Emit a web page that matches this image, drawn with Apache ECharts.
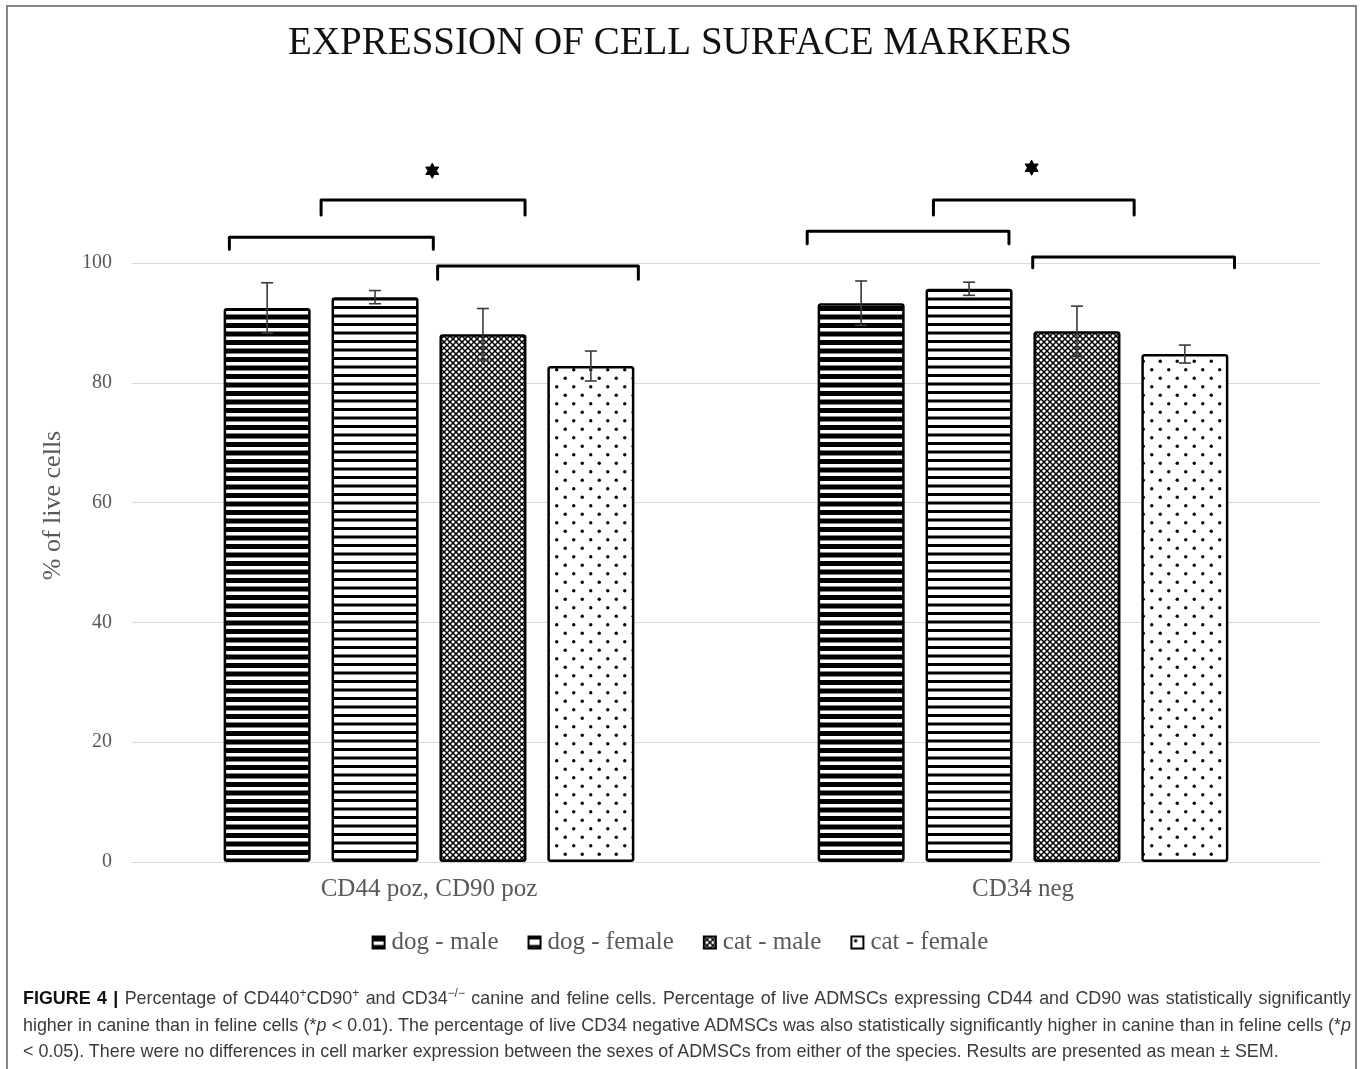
<!DOCTYPE html>
<html>
<head>
<meta charset="utf-8">
<script src="https://cdn.jsdelivr.net/npm/echarts@6/dist/echarts.min.js"></script>
<style>
html,body{margin:0;padding:0;width:1360px;height:1069px;overflow:hidden;background:#fff;}
#frame{position:absolute;left:6px;top:5px;width:1351px;height:1120px;border:2px solid #858585;box-sizing:border-box;pointer-events:none;}
#chart{position:absolute;left:0;top:0;width:1360px;height:1069px;}
#caption{position:absolute;left:23px;top:985px;width:1328px;font-family:'Liberation Sans',Arial,sans-serif;font-size:17.9px;line-height:26.5px;color:#3a3a3a;}
#caption div{white-space:nowrap;}
#caption .j{text-align:justify;text-align-last:justify;white-space:normal;}
#caption b{color:#111;}
#caption sup{font-size:12px;line-height:0;vertical-align:super;}
</style>
</head>
<body>
<div id="chart"></div>
<div id="caption">
<div class="j"><b>FIGURE 4 |</b> Percentage of CD440<sup>+</sup>CD90<sup>+</sup> and CD34<sup>−/−</sup> canine and feline cells. Percentage of live ADMSCs expressing CD44 and CD90 was statistically significantly</div>
<div class="j">higher in canine than in feline cells (*<i>p</i> &lt; 0.01). The percentage of live CD34 negative ADMSCs was also statistically significantly higher in canine than in feline cells (*<i>p</i></div>
<div>&lt; 0.05). There were no differences in cell marker expression between the sexes of ADMSCs from either of the species. Results are presented as mean ± SEM.</div>
</div>
<div id="frame"></div>
<script>
// ---- data ----
const categories = ['CD44 poz, CD90 poz', 'CD34 neg'];
const seriesNames = ['dog - male', 'dog - female', 'cat - male', 'cat - female'];
const dogMale = [92.5, 93.3];
const dogFemale = [94.3, 95.7];
const catMale = [88.1, 88.6];
const catFemale = [82.8, 84.8];
const dogMaleSem = [4.2, 3.7];
const dogFemaleSem = [1.1, 1.1];
const catMaleSem = [4.3, 4.2];
const catFemaleSem = [2.5, 1.5];
const yTicks = [0, 20, 40, 60, 80, 100];

// ---- annotations (category index, offsets in bar-pitch units, y in data units) ----
const bracketCats = [0, 0, 0, 1, 1, 1];
const bracketFrom = [-1.0, -1.85, 0.08, -0.83, -2.0, 0.09];
const bracketTo = [0.89, 0.04, 1.94, 1.03, -0.13, 1.96];
const bracketTop = [110.5, 104.3, 99.5, 110.5, 105.3, 101.0];
const bracketLeg = [108.0, 102.3, 97.3, 108.0, 103.2, 99.2];
const starCats = [0, 1];
const starAt = [0.03, 0.08];
const starY = [115.4, 115.9];

// ---- layout / style ----
const BAR_FRAC = 0.1465;  // bar width as fraction of category band
const GAP_FRAC = 0.24;    // gap between bars as fraction of bar width
const SERIF = "'Liberation Serif', 'Times New Roman', serif";
const GREY = '#595959';

function makePattern(kind) {
  const c = document.createElement('canvas');
  const ctx = c.getContext('2d');
  if (kind === 'dm' || kind === 'df') {
    c.width = 8; c.height = 17;
    ctx.fillStyle = '#fff'; ctx.fillRect(0, 0, 8, 17);
    ctx.fillStyle = '#000';
    const h = kind === 'dm' ? 5 : 3;
    ctx.fillRect(0, 0, 8, h); ctx.fillRect(0, 8.5, 8, h);
  } else if (kind === 'cm') {
    c.width = 6; c.height = 6;
    ctx.fillStyle = '#fff'; ctx.fillRect(0, 0, 6, 6);
    ctx.strokeStyle = '#000'; ctx.lineWidth = 1.5;
    for (let o = -6; o <= 6; o += 6) {
      ctx.beginPath(); ctx.moveTo(o, 0); ctx.lineTo(o + 6, 6); ctx.stroke();
      ctx.beginPath(); ctx.moveTo(o + 6, 0); ctx.lineTo(o, 6); ctx.stroke();
    }
  } else {
    c.width = 17; c.height = 17;
    ctx.fillStyle = '#fff'; ctx.fillRect(0, 0, 17, 17);
    ctx.fillStyle = '#000';
    [[4.25, 4.25], [12.75, 12.75]].forEach(p => { ctx.beginPath(); ctx.arc(p[0], p[1], 1.7, 0, Math.PI * 2); ctx.fill(); });
  }
  return { image: c, repeat: 'repeat' };
}
const patterns = [makePattern('dm'), makePattern('df'), makePattern('cm'), makePattern('cf')];
const values = [dogMale, dogFemale, catMale, catFemale];
const sems = [dogMaleSem, dogFemaleSem, catMaleSem, catFemaleSem];

function barCenterX(api, ci, k) {
  const band = api.size([1, 0])[0];
  const bw = band * BAR_FRAC, gap = bw * GAP_FRAC;
  const total = 4 * bw + 3 * gap;
  return api.coord([ci, 0])[0] - total / 2 + k * (bw + gap) + bw / 2;
}
function pitch(api) {
  const bw = api.size([1, 0])[0] * BAR_FRAC;
  return bw * (1 + GAP_FRAC);
}

const barSeries = seriesNames.map((name, k) => ({
  name, type: 'bar', data: values[k],
  barWidth: (BAR_FRAC * 100) + '%', barGap: (GAP_FRAC * 100) + '%',
  itemStyle: { color: patterns[k], borderColor: '#000', borderWidth: 2.5, borderRadius: 2 },
  emphasis: { disabled: true }, z: 2
}));

const errSeries = seriesNames.map((name, k) => ({
  type: 'custom', silent: true, z: 5,
  data: categories.map((c, i) => [i, values[k][i], sems[k][i]]),
  encode: { x: 0, y: 1 },
  renderItem: function (params, api) {
    const ci = api.value(0), v = api.value(1), e = api.value(2);
    const x = barCenterX(api, ci, k);
    const yt = api.coord([ci, v + e])[1], yb = api.coord([ci, v - e])[1];
    const cw = 6;
    const st = { stroke: '#3a3a3a', lineWidth: 1.6, fill: null };
    return { type: 'group', children: [
      { type: 'line', shape: { x1: x, y1: yt, x2: x, y2: yb }, style: st },
      { type: 'line', shape: { x1: x - cw, y1: yt, x2: x + cw, y2: yt }, style: st },
      { type: 'line', shape: { x1: x - cw, y1: yb, x2: x + cw, y2: yb }, style: st }
    ] };
  }
}));

const bracketSeries = {
  type: 'custom', silent: true, z: 6, clip: false,
  data: bracketCats.map((c, i) => [c, bracketFrom[i], bracketTo[i], bracketTop[i], bracketLeg[i]]),
  encode: { x: 0, y: 3 },
  renderItem: function (params, api) {
    const ci = api.value(0);
    const cx = api.coord([ci, 0])[0];
    const p = pitch(api);
    const x1 = cx + api.value(1) * p, x2 = cx + api.value(2) * p;
    const yt = api.coord([ci, api.value(3)])[1], yl = api.coord([ci, api.value(4)])[1];
    return { type: 'polyline', shape: { points: [[x1, yl], [x1, yt], [x2, yt], [x2, yl]] },
      style: { stroke: '#000', lineWidth: 3, fill: null, lineJoin: 'round', lineCap: 'round' } };
  }
};

// six-pointed significance star, drawn around the data-coordinate anchor
const STAR_R = 7.5, STAR_r = 4.2;
const starSeries = {
  type: 'custom', silent: true, z: 6, clip: false,
  data: starCats.map((c, i) => [c, starAt[i], starY[i]]),
  encode: { x: 0, y: 2 },
  renderItem: function (params, api) {
    const ci = api.value(0);
    const x = api.coord([ci, 0])[0] + api.value(1) * pitch(api);
    const y = api.coord([ci, api.value(2)])[1];
    const pts = [];
    for (let i = 0; i < 12; i++) {
      const a = -Math.PI / 2 + i * Math.PI / 6;
      const r = i % 2 === 0 ? STAR_R : STAR_r;
      pts.push([x + r * Math.cos(a), y + r * Math.sin(a)]);
    }
    return { type: 'polygon', shape: { points: pts }, style: { fill: '#000', stroke: '#000', lineWidth: 1, lineJoin: 'round' } };
  }
};

const chart = echarts.init(document.getElementById('chart'), null, { renderer: 'canvas' });
chart.setOption({
  animation: false,
  backgroundColor: '#fff',
  title: { text: 'EXPRESSION OF CELL SURFACE MARKERS', left: 'center', top: 19,
    textStyle: { fontFamily: SERIF, fontSize: 39, fontWeight: 'normal', color: '#111' } },
  legend: { data: seriesNames, top: 925, left: 'center', itemWidth: 12, itemHeight: 12, itemGap: 29, icon: 'rect',
    textStyle: { fontFamily: SERIF, fontSize: 25, color: GREY, padding: [0, 0, 0, 2] } },
  grid: { left: 132, right: 40, top: 263, bottom: 207 },
  xAxis: { type: 'category', data: categories,
    axisLine: { lineStyle: { color: '#d9d9d9', width: 1 } }, axisTick: { show: false },
    axisLabel: { fontFamily: SERIF, fontSize: 25, color: GREY, margin: 15 } },
  yAxis: { type: 'value', min: yTicks[0], max: yTicks[yTicks.length - 1], interval: yTicks[1] - yTicks[0],
    name: '% of live cells', nameLocation: 'middle', nameGap: 66, nameRotate: 90,
    nameTextStyle: { fontFamily: SERIF, fontSize: 26, color: GREY, padding: [0, 0, 0, 114] },
    axisLine: { show: false }, axisTick: { show: false },
    splitLine: { lineStyle: { color: '#d9d9d9', width: 1 } },
    axisLabel: { fontFamily: SERIF, fontSize: 20, color: GREY, margin: 20 } },
  series: [...barSeries, ...errSeries, bracketSeries, starSeries]
});
</script>
</body>
</html>
